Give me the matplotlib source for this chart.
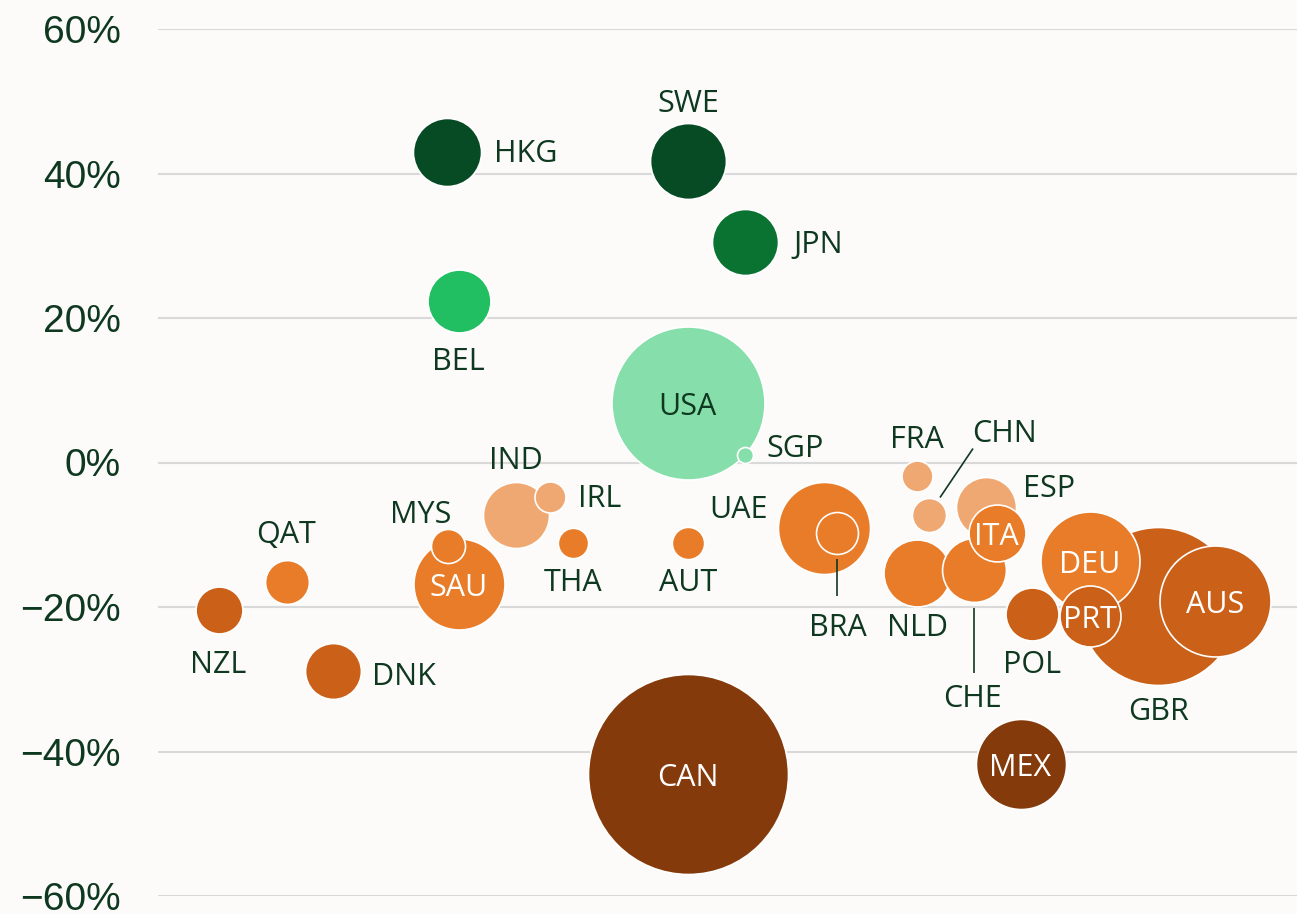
import matplotlib
matplotlib.use("Agg")
import matplotlib.pyplot as plt
import numpy as np

# ---------------- data ----------------
countries = ['HKG', 'SWE', 'JPN', 'BEL', 'USA', 'SGP', 'IND', 'IRL', 'MYS', 'SAU',
             'THA', 'AUT', 'UAE', 'BRA', 'QAT', 'NZL', 'DNK', 'FRA', 'CHN', 'ESP',
             'ITA', 'NLD', 'CHE', 'DEU', 'POL', 'PRT', 'GBR', 'AUS', 'MEX', 'CAN']
change_pct = [43.0, 41.7, 30.5, 22.3, 8.2, 1.0, -7.3, -4.8, -11.6, -16.8,
              -11.1, -11.1, -9.1, -9.8, -16.5, -20.4, -28.9, -1.8, -7.2, -6.2,
              -9.8, -15.3, -14.9, -13.6, -20.9, -21.3, -19.8, -19.2, -41.7, -43.1]
volume = [11.6, 14.4, 10.9, 9.9, 58.5, 0.64, 10.9, 2.4, 2.9, 20.7,
          2.3, 2.6, 21.2, 4.4, 4.8, 5.5, 7.8, 2.4, 2.9, 9.0,
          8.1, 11.2, 10.2, 24.5, 7.0, 9.3, 62.4, 30.8, 20.3, 100.0]
# horizontal layout column of each bubble (beeswarm-like placement)
x_pos = [447, 688, 745, 458.5, 687.5, 745, 516, 550, 448, 458.5,
         573, 688, 824, 836.5, 286.5, 218.5, 333, 917, 929, 986,
         996.5, 917, 974, 1089.5, 1031.5, 1089.5, 1158, 1215, 1020.5, 688]
y_ticks = [-60, -40, -20, 0, 20, 40, 60]

# ---------------- styles ----------------
C_DKGREEN = '#074b24'
C_GREEN = '#0b7332'
C_BRGREEN = '#22bf62'
C_LTGREEN = '#86dfaa'
C_LTORANGE = '#f0a872'
C_ORANGE = '#e87c29'
C_DKORANGE = '#cb6018'
C_BROWN = '#843a0a'
color_of = {
    'HKG': C_DKGREEN, 'SWE': C_DKGREEN, 'JPN': C_GREEN, 'BEL': C_BRGREEN,
    'USA': C_LTGREEN, 'SGP': C_LTGREEN,
    'IND': C_LTORANGE, 'IRL': C_LTORANGE, 'FRA': C_LTORANGE, 'CHN': C_LTORANGE, 'ESP': C_LTORANGE,
    'MYS': C_ORANGE, 'SAU': C_ORANGE, 'THA': C_ORANGE, 'AUT': C_ORANGE, 'UAE': C_ORANGE,
    'BRA': C_ORANGE, 'QAT': C_ORANGE, 'ITA': C_ORANGE, 'NLD': C_ORANGE, 'CHE': C_ORANGE, 'DEU': C_ORANGE,
    'NZL': C_DKORANGE, 'DNK': C_DKORANGE, 'POL': C_DKORANGE, 'PRT': C_DKORANGE,
    'GBR': C_DKORANGE, 'AUS': C_DKORANGE,
    'MEX': C_BROWN, 'CAN': C_BROWN,
}
TEXT = '#0f3820'
BG = '#fcfbf9'

# label placement: (dx px, dy px, ha) relative to bubble centre; None = inside
label_place = {
    'HKG': (47, -1, 'left'), 'SWE': (0, -60, 'center'), 'JPN': (48, 0, 'left'),
    'BEL': (0, 57.5, 'center'), 'SGP': (21, -9, 'left'), 'IND': (0, -57, 'center'),
    'IRL': (28, -1, 'left'), 'MYS': (-27, -34, 'center'), 'THA': (0, 37.5, 'center'),
    'AUT': (0, 37, 'center'), 'UAE': (-85, -21, 'center'), 'QAT': (0, -50, 'center'),
    'NZL': (0, 52, 'center'), 'DNK': (39, 3, 'left'), 'FRA': (0, -38.5, 'center'),
    'CHN': (75, -83.5, 'center'), 'ESP': (37, -21, 'left'), 'NLD': (0, 52, 'center'),
    'BRA': (1, 91.5, 'center'), 'CHE': (-1.5, 126, 'center'), 'POL': (0, 48.5, 'center'),
    'GBR': (0, 103.5, 'center'),
}
inside_dark = {'USA'}
# leader lines: (dx1, dy1, dx2, dy2) px relative to bubble centre
leaders = {
    'BRA': (0.5, 26, 0.5, 63),
    'CHE': (0, 38, 0, 103),
    'CHN': (11, -17, 44, -66),
}

W, H, DPI = 1297, 914, 100
fig = plt.figure(figsize=(W / DPI, H / DPI), dpi=DPI, facecolor=BG)
ax_left, ax_right, ax_top, ax_bot = 158, 1297, 29, 896
ax = fig.add_axes([ax_left / W, (H - ax_bot) / H, (ax_right - ax_left) / W, (ax_bot - ax_top) / H])
ax.set_facecolor(BG)
ax.set_xlim(ax_left, ax_right)
ax.set_ylim(y_ticks[0], y_ticks[-1])
PX_PER_UNIT = (ax_bot - ax_top) / (y_ticks[-1] - y_ticks[0])

for s in ax.spines.values():
    s.set_visible(False)
ax.set_xticks([])
ax.set_yticks(y_ticks)
ax.set_yticklabels([(f'\u2212{abs(t)}%' if t < 0 else f'{t}%') for t in y_ticks],
                   fontfamily='Liberation Sans', fontsize=28, color=TEXT)
ax.tick_params(axis='y', length=0, pad=27)
ax.yaxis.grid(True, color='#d9d9d9', linewidth=1.5)
ax.set_axisbelow(True)

radius_px = [10 * np.sqrt(v) for v in volume]
order = np.argsort(radius_px)[::-1]
for rank, i in enumerate(order):
    d_pt = 2 * radius_px[i] * 72 / DPI
    ax.scatter([x_pos[i]], [change_pct[i]], s=d_pt ** 2, color=color_of[countries[i]],
               edgecolors='white', linewidths=1.2, zorder=3 + rank * 0.01, clip_on=False)

LABEL_FONT = dict(fontfamily='Open Sans', fontsize=22)
CAP_HALF = 10.9
for i, c in enumerate(countries):
    x, v = x_pos[i], change_pct[i]
    if c in label_place:
        dx, dy, ha = label_place[c]
        ax.annotate(c, (x, v), xytext=(dx * 0.72, -(dy + CAP_HALF) * 0.72),
                    textcoords='offset points', ha=ha, va='baseline', color=TEXT,
                    zorder=10, **LABEL_FONT)
    else:
        col = TEXT if c in inside_dark else 'white'
        ax.annotate(c, (x, v), xytext=(0, -(1 + CAP_HALF) * 0.72),
                    textcoords='offset points', ha='center', va='baseline', color=col,
                    zorder=10, **LABEL_FONT)

for c, (dx1, dy1, dx2, dy2) in leaders.items():
    i = countries.index(c)
    x, v = x_pos[i], change_pct[i]
    ax.plot([x + dx1, x + dx2], [v - dy1 / PX_PER_UNIT, v - dy2 / PX_PER_UNIT],
            color=TEXT, linewidth=1.2, zorder=9, solid_capstyle='butt')

fig.savefig('out.png', dpi=DPI, facecolor=BG)
